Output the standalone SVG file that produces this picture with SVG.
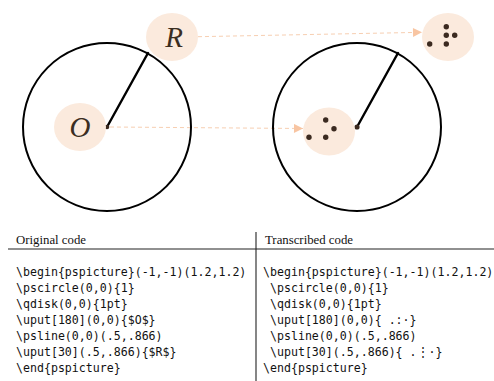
<svg xmlns="http://www.w3.org/2000/svg" width="494" height="381" viewBox="0 0 494 381">
<style>
.circ{fill:none;stroke:#000;stroke-width:2}
.rad{stroke:#000;stroke-width:2.4;stroke-linecap:round}
.bub{fill:#fbeadd}
.lbl{font-family:"Liberation Serif",serif;font-style:italic;font-size:29px;fill:#3b2e22;text-anchor:middle}
.dot{fill:#3b2a20}
.dash{fill:none;stroke:#f7cfb2;stroke-width:1;stroke-dasharray:4 3}
.hdr{font-family:"Liberation Serif",serif;font-size:12.8px;fill:#111}
.code{font-family:"DejaVu Sans Mono",monospace;font-size:11.6px;fill:#111;white-space:pre}
.rule{stroke:#222;stroke-width:1.1}
</style>
<defs>
<marker id="ah" viewBox="0 0 10 10" refX="10" refY="5" markerWidth="10" markerHeight="9" markerUnits="userSpaceOnUse" orient="auto">
<path d="M0,0 L10,5 L0,10 z" fill="#f8c5a2"/>
</marker>
</defs>
<g id="connectors">
<path class="dash" d="M198,36.7 L422,32.3" marker-end="url(#ah)"/>
<path class="dash" d="M110,127 L303,128.5" marker-end="url(#ah)"/>
</g>
<g id="left-circle">
<circle class="circ" cx="107" cy="127" r="84"/>
<line class="rad" x1="107" y1="127" x2="148" y2="53"/>
<circle class="dot" cx="107" cy="127" r="2.3"/>
</g>
<g id="node-O">
<ellipse class="bub" cx="80" cy="127" rx="26" ry="24"/>
<text class="lbl" x="80" y="137">O</text>
</g>
<g id="node-R">
<ellipse class="bub" cx="172" cy="37" rx="26" ry="24"/>
<text class="lbl" x="174" y="47">R</text>
</g>
<g id="right-circle">
<circle class="circ" cx="357" cy="127" r="84"/>
<line class="rad" x1="357" y1="127" x2="398" y2="53"/>
<circle class="dot" cx="357" cy="127" r="2.6"/>
</g>
<g id="node-dots-lower">
<ellipse class="bub" cx="329" cy="131.5" rx="26" ry="24"/>
<circle class="dot" cx="325.7" cy="120" r="2.7"/>
<circle class="dot" cx="334" cy="128.7" r="2.7"/>
<circle class="dot" cx="309" cy="137.3" r="2.7"/>
<circle class="dot" cx="325.7" cy="137.3" r="2.7"/>
</g>
<g id="node-dots-upper">
<ellipse class="bub" cx="448" cy="37" rx="26" ry="24"/>
<circle class="dot" cx="446.3" cy="26.7" r="2.7"/>
<circle class="dot" cx="446.3" cy="35.3" r="2.7"/>
<circle class="dot" cx="454.7" cy="35.3" r="2.7"/>
<circle class="dot" cx="429.7" cy="44" r="2.7"/>
<circle class="dot" cx="446.3" cy="44" r="2.7"/>
</g>
<g id="table">
<line class="rule" x1="8" y1="249" x2="494" y2="249"/>
<line class="rule" x1="256" y1="232" x2="256" y2="381"/>
<text class="hdr" x="16" y="244">Original code</text>
<text class="hdr" x="265" y="244">Transcribed code</text>
<text class="code" x="16" y="276">\begin{pspicture}(-1,-1)(1.2,1.2)</text>
<text class="code" x="16" y="292">\pscircle(0,0){1}</text>
<text class="code" x="16" y="308">\qdisk(0,0){1pt}</text>
<text class="code" x="16" y="324">\uput[180](0,0){$O$}</text>
<text class="code" x="16" y="340">\psline(0,0)(.5,.866)</text>
<text class="code" x="16" y="356">\uput[30](.5,.866){$R$}</text>
<text class="code" x="16" y="372">\end{pspicture}</text>
<text class="code" x="263" y="276">\begin{pspicture}(-1,-1)(1.2,1.2)</text>
<text class="code" x="263" y="292"> \pscircle(0,0){1}</text>
<text class="code" x="263" y="308"> \qdisk(0,0){1pt}</text>
<text class="code" x="263" y="324"> \uput[180](0,0){ .:·}</text>
<text class="code" x="263" y="340"> \psline(0,0)(.5,.866)</text>
<text class="code" x="263" y="356"> \uput[30](.5,.866){ .⋮·}</text>
<text class="code" x="263" y="372">\end{pspicture}</text>
</g>
</svg>
